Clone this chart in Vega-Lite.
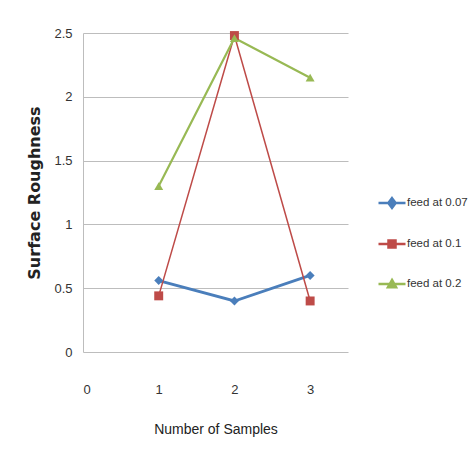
{
  "$schema": "https://vega.github.io/schema/vega-lite/v6.json",
  "autosize": "none",
  "width": 265,
  "height": 319,
  "padding": {"left": 83, "top": 33, "right": 122, "bottom": 109},
  "background": "white",
  "config": {
    "view": {"stroke": null},
    "font": "Liberation Sans"
  },
  "data": {
    "values": [
      {"sample": 1, "roughness": 0.56, "series": "feed at 0.07"},
      {"sample": 2, "roughness": 0.40, "series": "feed at 0.07"},
      {"sample": 3, "roughness": 0.60, "series": "feed at 0.07"},
      {"sample": 1, "roughness": 0.44, "series": "feed at 0.1"},
      {"sample": 2, "roughness": 2.48, "series": "feed at 0.1"},
      {"sample": 3, "roughness": 0.40, "series": "feed at 0.1"},
      {"sample": 1, "roughness": 1.30, "series": "feed at 0.2"},
      {"sample": 2, "roughness": 2.46, "series": "feed at 0.2"},
      {"sample": 3, "roughness": 2.15, "series": "feed at 0.2"}
    ]
  },
  "encoding": {
    "x": {
      "field": "sample",
      "type": "quantitative",
      "scale": {"domain": [0, 3.5], "nice": false, "zero": false},
      "axis": {
        "values": [0, 1, 2, 3],
        "format": "d",
        "grid": false,
        "domain": false,
        "ticks": false,
        "labelPadding": 31,
        "labelFontSize": 13,
        "labelColor": "#333333",
        "title": "Number of Samples",
        "titleFontSize": 14,
        "titleFontWeight": "normal",
        "titleColor": "#222222",
        "titlePadding": 26
      }
    },
    "y": {
      "field": "roughness",
      "type": "quantitative",
      "scale": {"domain": [0, 2.5], "nice": false},
      "axis": {
        "values": [0, 0.5, 1, 1.5, 2, 2.5],
        "format": ".1~f",
        "grid": true,
        "gridColor": "#bdbdbd",
        "gridWidth": 1,
        "domain": true,
        "domainColor": "#bdbdbd",
        "ticks": false,
        "labelPadding": 11,
        "labelFontSize": 13,
        "labelColor": "#333333",
        "title": "Surface Roughness",
        "titleFont": "DejaVu Sans",
        "titleFontSize": 16,
        "titleFontWeight": "bold",
        "titleColor": "#222222",
        "titlePadding": 11
      }
    }
  },
  "layer": [
    {
      "mark": {"type": "line"},
      "encoding": {
        "color": {
          "field": "series",
          "type": "nominal",
          "scale": {"domain": ["feed at 0.07", "feed at 0.1", "feed at 0.2"], "range": ["#4a7ebb", "#be4b48", "#98b954"]},
          "legend": null
        },
        "strokeWidth": {
          "condition": [
            {"test": "datum.series === 'feed at 0.1'", "value": 1.5},
            {"test": "datum.series === 'feed at 0.2'", "value": 2.2}
          ],
          "value": 2.8
        }
      }
    },
    {
      "mark": {"type": "point", "filled": true, "opacity": 1},
      "encoding": {
        "color": {
          "field": "series",
          "type": "nominal",
          "scale": {"domain": ["feed at 0.07", "feed at 0.1", "feed at 0.2"], "range": ["#4a7ebb", "#be4b48", "#98b954"]},
          "legend": null
        },
        "shape": {
          "field": "series",
          "type": "nominal",
          "scale": {"domain": ["feed at 0.07", "feed at 0.1", "feed at 0.2"], "range": ["diamond", "square", "triangle-up"]},
          "legend": null
        },
        "size": {"value": 80}
      }
    },
    {
      "mark": {"type": "point", "filled": true, "opacity": 0},
      "encoding": {
        "fill": {
          "field": "series",
          "type": "nominal",
          "scale": {"domain": ["feed at 0.07", "feed at 0.1", "feed at 0.2"], "range": ["#4a7ebb", "#be4b48", "#98b954"]},
          "legend": {
            "title": null,
            "orient": "none",
            "legendX": 294,
            "legendY": 155,
            "rowPadding": 16,
            "labelFontSize": 11.5,
            "labelColor": "#333333",
            "labelOffset": 0,
            "symbolSize": 729,
            "symbolStrokeWidth": 2.5,
            "symbolOpacity": 1
          }
        },
        "stroke": {
          "field": "series",
          "type": "nominal",
          "scale": {"domain": ["feed at 0.07", "feed at 0.1", "feed at 0.2"], "range": ["#4a7ebb", "#be4b48", "#98b954"]},
          "legend": {
            "title": null,
            "orient": "none",
            "legendX": 294,
            "legendY": 155,
            "rowPadding": 16,
            "labelFontSize": 11.5,
            "labelColor": "#333333",
            "labelOffset": 0,
            "symbolSize": 729,
            "symbolStrokeWidth": 2.5,
            "symbolOpacity": 1
          }
        },
        "shape": {
          "field": "series",
          "type": "nominal",
          "scale": {
            "domain": ["feed at 0.07", "feed at 0.1", "feed at 0.2"],
            "range": [
              "M-1,0H1M0,-0.36L0.27,0L0,0.36L-0.27,0Z",
              "M-1,0H1M-0.26,-0.26H0.26V0.26H-0.26Z",
              "M-1,0H1M0,-0.3L0.3,0.24H-0.3Z"
            ]
          },
          "legend": {
            "title": null,
            "orient": "none",
            "legendX": 294,
            "legendY": 155,
            "rowPadding": 16,
            "labelFontSize": 11.5,
            "labelColor": "#333333",
            "labelOffset": 0,
            "symbolSize": 729,
            "symbolStrokeWidth": 2.5,
            "symbolOpacity": 1
          }
        },
        "size": {"value": 729}
      }
    }
  ],
  "resolve": {
    "scale": {"shape": "independent", "fill": "independent", "stroke": "independent"},
    "legend": {"shape": "independent", "fill": "independent", "stroke": "independent"}
  }
}
